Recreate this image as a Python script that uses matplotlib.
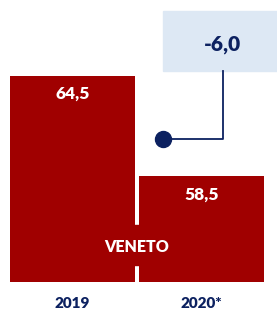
import matplotlib
matplotlib.use("Agg")
import matplotlib.pyplot as plt
from matplotlib.patches import Rectangle

categories = ["2019", "2020*"]
values = [64.5, 58.5]
value_labels = ["64,5", "58,5"]
delta_label = "-6,0"
region_label = "VENETO"

RED = "#a00000"
NAVY = "#0c2160"
LIGHT = "#dde8f4"
FONT = "Lato"
WT = "heavy"

W, H = 277, 311
fig = plt.figure(figsize=(W / 100, H / 100), dpi=100)
ax = fig.add_axes([0, (H - 282) / H, 1, 282 / H])

base = 52.2
ppu = 206 / (values[0] - base)
ax.set_ylim(base, base + 282 / ppu)
step = 129
ax.set_xlim(-72.5 / step, 1 + (W - 201.5) / step)
x = [0, 1]
ax.bar(x, [v - base for v in values], bottom=base, width=125 / step, color=RED, zorder=2)
ax.axis("off")

for xi, v, lab in zip(x, values, value_labels):
    ax.annotate(lab, (xi, v), xytext=(0, -13), textcoords="offset points",
                ha="center", va="center", color="white", fontsize=12.5,
                fontweight=WT, family=FONT)

for xi, c in zip(x, categories):
    fig.text((72.5 + xi * step) / W, 1 - 304 / H, c, ha="center", va="center",
             color=NAVY, fontsize=11, fontweight=WT, family=FONT)

# region label with red backing covering gap
fig.patches.append(Rectangle((130 / W, 1 - 265 / H), 14 / W, 40 / H,
                             transform=fig.transFigure, color=RED, zorder=3))
fig.text(137 / W, 1 - 247 / H, region_label, ha="center", va="center",
         color="white", fontsize=11.5, fontweight=WT, family=FONT, zorder=4)

# delta box
fig.patches.append(Rectangle((163 / W, 1 - 71 / H), (W - 163) / W, 60 / H,
                             transform=fig.transFigure, color=LIGHT, zorder=1))
fig.text(222 / W, 1 - 44 / H, delta_label, ha="center", va="center",
         color=NAVY, fontsize=15, fontweight=WT, family=FONT)

# connector
fig.lines.append(plt.Line2D([223 / W, 223 / W, 163 / W],
                            [1 - 71 / H, 1 - 139 / H, 1 - 139 / H],
                            transform=fig.transFigure, color=NAVY, lw=1.3))
fig.lines.append(plt.Line2D([163 / W], [1 - 139 / H], transform=fig.transFigure,
                            marker="o", markersize=11.5, color=NAVY, lw=0))

fig.savefig("out.png", dpi=100)
